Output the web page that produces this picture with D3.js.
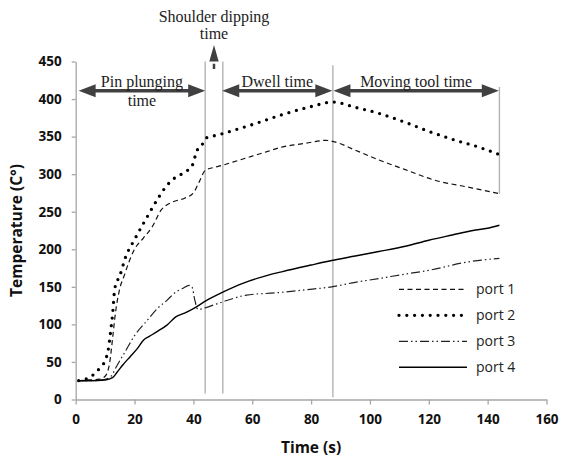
<!DOCTYPE html>
<html>
<head>
<meta charset="utf-8">
<script src="https://cdn.jsdelivr.net/npm/d3@7"></script>
<style>
  body { margin: 0; background: #fff; }
  .axis text { font-family: "Open Sans", sans-serif; font-weight: bold; font-size: 13.5px; fill: #111; }
  .axis path, .axis line { stroke: #a6a6a6; stroke-width: 1.3; }
  .axisLabel { font-family: "Open Sans", sans-serif; font-weight: bold; font-size: 15.5px; fill: #111; }
  .note { font-family: "Liberation Serif", "Times New Roman", serif; font-size: 16px; fill: #222; }
  .legend text { font-family: "Open Sans", sans-serif; font-size: 14px; fill: #222; }
</style>
</head>
<body>
<svg class="chart"></svg>
<script>
// data
var seriesNames = ['port 1', 'port 2', 'port 3', 'port 4'];

var port1Time = [1, 4, 8, 10, 11.5, 12.5, 13.5, 15, 16.5, 18, 20, 23, 26, 29, 33, 37, 40, 42, 44, 47, 50, 55, 60, 65, 70, 78, 85, 88, 95, 103, 112, 122, 133, 144];
var port1Temp = [25, 26, 27, 31, 48, 80, 115, 148, 165, 182, 200, 215, 230, 252, 263, 268, 275, 290, 305, 309, 312, 318, 324, 330, 336, 341, 345, 343, 332, 319, 306, 292, 283, 274];

var port2Time = [1, 4, 6, 8, 10, 11, 12, 12.5, 13.3, 15, 17, 20, 25, 28, 31, 34, 38, 40, 41, 42.8, 44.2, 46, 50, 55, 60, 70, 80, 87.5, 95, 103, 112, 120, 130, 137, 144];
var port2Temp = [25, 28, 33, 41, 52, 65, 95, 112, 148, 165, 190, 213, 248, 268, 285, 296, 305, 315, 330, 338, 348, 350, 354, 360, 366, 379, 390, 396, 389, 381, 369, 357, 344, 336, 326];

var port3Time = [1, 5, 10, 12, 14, 17, 20, 24, 28, 31, 34, 36.5, 38.5, 39.5, 40.5, 41.5, 44, 47, 50, 58, 68, 78, 87, 95, 103, 112, 120, 133, 144];
var port3Temp = [25, 25, 27, 31, 45, 65, 85, 104, 122, 132, 143, 148, 152, 150, 132, 120, 122, 126, 130, 139, 142, 146, 150, 156, 161, 167, 172, 183, 188];

var port4Time = [1, 5, 10, 12.5, 14, 16, 18.5, 21, 23, 25, 27.5, 31, 34, 37, 40, 44.5, 50, 57, 64, 70, 80, 87, 95, 103, 112, 120, 128, 135, 140, 144];
var port4Temp = [25, 25, 26, 29, 36, 46, 57, 68, 79, 84, 90, 99, 110, 115, 121, 132, 143, 155, 164, 170, 179, 185, 191, 197, 204, 212, 219, 225, 228, 232];

var xTickValues = [0, 20, 40, 60, 80, 100, 120, 140, 160];
var yTickValues = [0, 50, 100, 150, 200, 250, 300, 350, 400, 450];

// process phases (s) and the grey marker lines
var phaseNames = ['Pin plunging', 'Dwell time', 'Moving tool time'];
var phaseStart = [1, 49.8, 87.6];
var phaseEnd = [44, 87.2, 143.8];
var markerTime = [44, 50, 87.4, 144];
var markerTop = [450, 450, 445, 416];
var markerBottom = [8, 8, 3, 274];

// chart
var width = 563;
var height = 462;
var margin = {left: 75.7, right: 16.5, top: 61.5, bottom: 62.5};

var chart = d3.select('.chart')
    .attr('width', width)
    .attr('height', height);

var x = d3.scaleLinear()
    .domain([0, 160])
    .range([margin.left, width - margin.right]);

var y = d3.scaleLinear()
    .domain([0, 450])
    .range([height - margin.bottom, margin.top]);

var styles = {
  'port 1': {width: 1.2, dash: '5,3.5', cap: 'butt', color: '#111'},
  'port 2': {width: 3.3, dash: '0,7.8', cap: 'round', color: '#000'},
  'port 3': {width: 1.2, dash: '9,3,1.5,3,1.5,3', cap: 'butt', color: '#222'},
  'port 4': {width: 1.4, dash: null, cap: 'butt', color: '#000'}
};

var series = [
  {name: 'port 1', t: port1Time, v: port1Temp},
  {name: 'port 2', t: port2Time, v: port2Temp},
  {name: 'port 3', t: port3Time, v: port3Temp},
  {name: 'port 4', t: port4Time, v: port4Temp}
];

// axes
var xAxis = d3.axisBottom(x)
    .tickValues(xTickValues)
    .tickSize(5)
    .tickSizeOuter(0)
    .tickPadding(10);

chart.append('g')
    .attr('class', 'x axis')
    .attr('transform', 'translate(0,' + y(0) + ')')
    .call(xAxis);

var yAxis = d3.axisLeft(y)
    .tickValues(yTickValues)
    .tickSize(4)
    .tickSizeOuter(0)
    .tickPadding(10);

chart.append('g')
    .attr('class', 'y axis')
    .attr('transform', 'translate(' + x(0) + ',0)')
    .call(yAxis);

// grey marker lines
chart.selectAll('.marker')
    .data(markerTime)
  .enter().append('line')
    .attr('class', 'marker')
    .attr('x1', function(d) {return x(d);})
    .attr('x2', function(d) {return x(d);})
    .attr('y1', function(d, i) {return y(markerTop[i]);})
    .attr('y2', function(d, i) {return y(markerBottom[i]);})
    .attr('stroke', '#b3b3b3')
    .attr('stroke-width', 1.4);

// lines
var line = d3.line()
    .x(function(d) {return x(d[0]);})
    .y(function(d) {return y(d[1]);})
    .curve(d3.curveMonotoneX);

chart.selectAll('.series')
    .data(series)
  .enter().append('path')
    .attr('class', 'series')
    .attr('d', function(s) {return line(d3.zip(s.t, s.v));})
    .attr('fill', 'none')
    .attr('stroke', function(s) {return styles[s.name].color;})
    .attr('stroke-width', function(s) {return styles[s.name].width;})
    .attr('stroke-dasharray', function(s) {return styles[s.name].dash;})
    .attr('stroke-linecap', function(s) {return styles[s.name].cap;});

// arrows
var arrowY = y(411);
var arrowColor = '#404040';

function arrowHead(g, tipX, tipY, dir) {
  // dir: 1 points right, -1 points left
  g.append('path')
    .attr('d', 'M' + tipX + ',' + tipY +
      'L' + (tipX - dir * 17) + ',' + (tipY - 6.5) +
      'L' + (tipX - dir * 17) + ',' + (tipY + 6.5) + 'Z')
    .attr('fill', arrowColor);
}

var notes = chart.append('g');
phaseNames.forEach(function(name, i) {
  var x0 = x(phaseStart[i]), x1 = x(phaseEnd[i]);
  notes.append('line')
    .attr('x1', x0 + 10).attr('x2', x1 - 10)
    .attr('y1', arrowY).attr('y2', arrowY)
    .attr('stroke', arrowColor)
    .attr('stroke-width', 3.5);
  arrowHead(notes, x0, arrowY, -1);
  arrowHead(notes, x1, arrowY, 1);
  notes.append('text')
    .attr('class', 'note')
    .attr('x', (x0 + x1) / 2)
    .attr('y', arrowY - 3.5)
    .attr('text-anchor', 'middle')
    .text(name);
});

notes.append('text')
    .attr('class', 'note')
    .attr('x', (x(phaseStart[0]) + x(phaseEnd[0])) / 2)
    .attr('y', arrowY + 15)
    .attr('text-anchor', 'middle')
    .text('time');

// shoulder dipping arrow
var sx = x((markerTime[0] + markerTime[1]) / 2);
notes.append('line')
    .attr('x1', sx).attr('x2', sx)
    .attr('y1', y(440)).attr('y2', y(447))
    .attr('stroke', arrowColor)
    .attr('stroke-width', 2.5);
notes.append('path')
    .attr('d', 'M' + sx + ',' + 45 + 'L' + (sx - 4.7) + ',' + y(450) + 'L' + (sx + 4.7) + ',' + y(450) + 'Z')
    .attr('fill', arrowColor);
notes.append('text')
    .attr('class', 'note')
    .attr('x', sx)
    .attr('y', 21.5)
    .attr('text-anchor', 'middle')
    .text('Shoulder dipping');
notes.append('text')
    .attr('class', 'note')
    .attr('x', sx)
    .attr('y', 39)
    .attr('text-anchor', 'middle')
    .text('time');

// legend
var legend = chart.append('g')
    .attr('class', 'legend');

var rows = legend.selectAll('g')
    .data(series)
  .enter().append('g')
    .attr('transform', function(d, i) {return 'translate(399,' + (289.3 + i * 26) + ')';});

rows.append('line')
    .attr('x1', 0).attr('x2', 68)
    .attr('stroke', function(s) {return styles[s.name].color;})
    .attr('stroke-width', function(s) {return styles[s.name].width;})
    .attr('stroke-dasharray', function(s) {return styles[s.name].dash;})
    .attr('stroke-linecap', function(s) {return styles[s.name].cap;});

rows.append('text')
    .attr('x', 77)
    .attr('dy', '0.35em')
    .text(function(s) {return s.name;});

// axes labels
chart.append('text')
    .attr('class', 'axisLabel')
    .attr('transform', 'translate(22,' + ((y(0) + y(450)) / 2) + ') rotate(-90)')
    .attr('text-anchor', 'middle')
    .text('Temperature (C°)');

chart.append('text')
    .attr('class', 'axisLabel')
    .attr('x', (x(0) + x(160)) / 2)
    .attr('y', 453)
    .attr('text-anchor', 'middle')
    .text('Time (s)');
</script>
</body>
</html>
